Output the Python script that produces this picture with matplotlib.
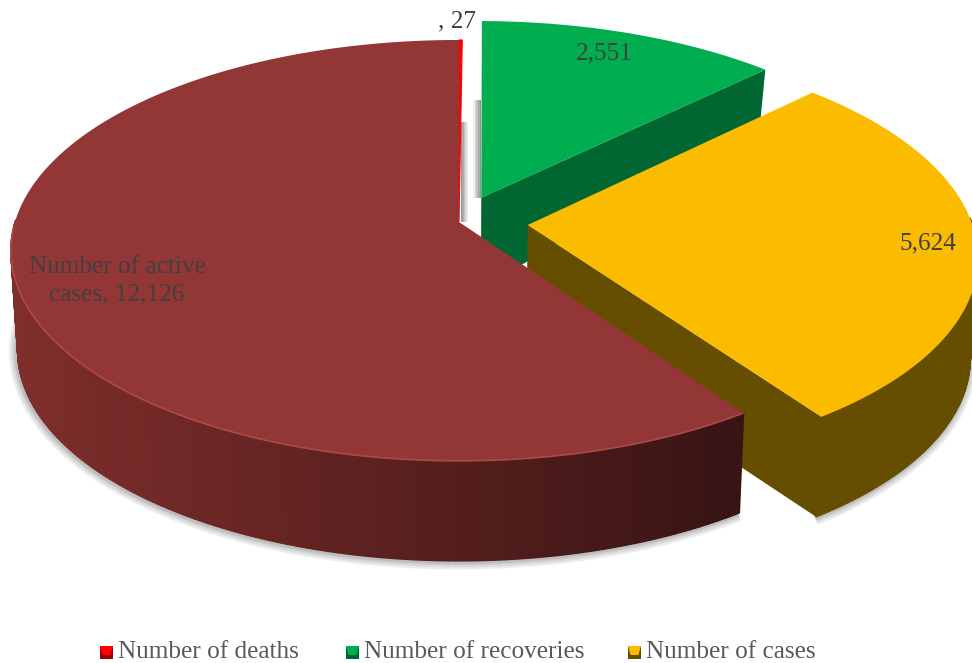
import numpy as np
import matplotlib
matplotlib.use("Agg")
import matplotlib.pyplot as plt
from matplotlib.patches import Polygon, Rectangle
from matplotlib.collections import PolyCollection

# ---- data
categories = ["Number of deaths", "Number of recoveries", "Number of cases", "Number of active cases"]
values = [27, 2551, 5624, 12126]
explode = [0.0, 0.13, 0.155, 0.0]
legend_names = categories[:3]

# ---- style
top_colors = ["#FF0000", "#00AE50", "#FBBC00", "#933636"]
side_colors = ["#990000", "#006632", "#664E00", "#7D2D2A"]
FONT = "Liberation Serif"
TXT = "#404040"

# ---- projection of the tilted disc to pixels
CX, CY, A, B, K = 459.0, 222.0, 206.6, 444.0, -0.135


def project(u, v):
    den = 1 + K * v
    return CX + B * u / den, CY + A * v / den


def project_low(u, v):
    x, y = project(u, v)
    depth = 100 + 64 * np.minimum(v, 0)
    return CX + (x - CX) * 0.985, y + depth


fig = plt.figure(figsize=(9.72, 6.63), dpi=100)
ax = fig.add_axes([0, 0, 1, 1])
ax.set_xlim(0, 972)
ax.set_ylim(663, 0)
ax.axis("off")

fracs = np.array(values) / sum(values) * 2 * np.pi
ends = np.cumsum(fracs)
starts = ends - fracs


def geometry(i):
    mid = (starts[i] + ends[i]) / 2
    u0, v0 = explode[i] * np.sin(mid), -explode[i] * np.cos(mid)
    t = np.linspace(starts[i], ends[i], max(4, int(fracs[i] * 90)))
    return u0, v0, t, u0 + np.sin(t), v0 - np.cos(t)


def draw_top(i, z, edge="none", lw=0):
    u0, v0, t, us, vs = geometry(i)
    ax0, ay0 = project(u0, v0)
    x, y = project(us, vs)
    ax.add_patch(Polygon(np.r_[[[ax0, ay0]], np.c_[x, y]], closed=True, fc=top_colors[i],
                         ec=edge, lw=lw, zorder=z))
    return x, y


def draw_radial(i, z):
    u0, v0, t, us, vs = geometry(i)
    p = [project(u0, v0), project(us[-1], vs[-1]), project_low(us[-1], vs[-1]), project_low(u0, v0)]
    ax.add_patch(Polygon(p, closed=True, fc=side_colors[i], ec="none", zorder=z))


def draw_arc(i, z, shade=None):
    u0, v0, t, us, vs = geometry(i)
    x, y = project(us, vs)
    xl, yl = project_low(us, vs)
    quads, cols = [], []
    for j in range(len(t) - 1):
        if min(vs[j], vs[j + 1]) < -0.02:   # the far part of the rim is hidden
            continue
        quads.append([(x[j], y[j]), (x[j + 1], y[j + 1]), (xl[j + 1], yl[j + 1]), (xl[j], yl[j])])
        cols.append(side_colors[i] if shade is None else shade((x[j] + x[j + 1]) / 2))
    ax.add_collection(PolyCollection(quads, facecolors=cols, edgecolors=cols, linewidths=1.0, zorder=z))


def drop_shadow(i, t0, t1, z):
    u0, v0, t, us, vs = geometry(i)
    keep = (t >= t0) & (t <= t1)
    xl, yl = project_low(us[keep], vs[keep])
    for w in (11, 8, 5, 3):
        ax.plot(xl - 1, yl + 1, color="black", alpha=0.07, lw=w, solid_capstyle="butt", zorder=z)


def brown_shade(x):
    f = np.clip((x - 20) / 720, 0, 1)
    c0, c1 = np.array([126, 46, 43]), np.array([56, 20, 20])
    return tuple((c0 + (c1 - c0) * f) / 255)


# soft shadows under the pie
drop_shadow(3, starts[3], starts[3] + 2.6, 1)
drop_shadow(2, starts[2] + 0.5, ends[2], 1)

# green slice with the shadow in the gap
gx, gy = project(*geometry(1)[:2])
for n in range(5):
    ax.add_patch(Rectangle((gx - 8 + n * 1.6, 100), 1.6, gy - 100, fc="black", alpha=0.06 + 0.09 * n, ec="none", zorder=2))
    ax.add_patch(Rectangle((CX + 2 + n * 1.4, 122), 1.4, 100, fc="black", alpha=0.42 - 0.09 * n, ec="none", zorder=2))
draw_radial(1, 4)
draw_top(1, 5)

# red sliver
draw_top(0, 6, edge=top_colors[0], lw=0.8)

# yellow slice
draw_arc(2, 7)
draw_radial(2, 8)
draw_top(2, 9)

# brown slice
draw_arc(3, 10, shade=brown_shade)
x, y = draw_top(3, 11)
keep = y > 225
ax.plot(x[keep], y[keep], color="#AE4A46", lw=1.2, zorder=12, solid_capstyle="butt")

# data labels
label_kw = dict(family=FONT, fontsize=18.2, color=TXT, ha="center", va="center", zorder=20)
ax.text(457, 21, f", {values[0]:,}", **label_kw)
ax.text(604, 53, f"{values[1]:,}", **label_kw)
ax.text(928, 243, f"{values[2]:,}", **label_kw)
ax.text(117, 281, f"Number of active\ncases, {values[3]:,}", linespacing=1.3, **label_kw)

# legend
legend_x = [100, 346, 628]
for name, lx, col, dark in zip(legend_names, legend_x, top_colors, side_colors):
    ax.add_patch(Rectangle((lx, 646), 13, 13, fc=dark, ec="none", zorder=20))
    ax.add_patch(Polygon([(lx, 646), (lx + 13, 646), (lx + 10.5, 655), (lx + 2.5, 655)], closed=True,
                         fc=col, ec="none", zorder=21))
    ax.text(lx + 18, 652, name, family=FONT, fontsize=18.2, color="#595959", ha="left", va="center", zorder=20)

fig.savefig("out.png", dpi=100)
